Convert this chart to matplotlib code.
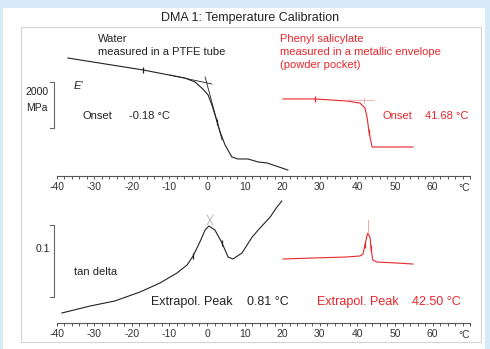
import matplotlib
matplotlib.use("Agg")
import matplotlib.pyplot as plt
from matplotlib.patches import Rectangle

plt.rcParams['font.family'] = ['Liberation Sans', 'DejaVu Sans']
plt.rcParams['axes.unicode_minus'] = False

# water in PTFE tube: storage modulus E' (MPa)
water_T = [-37.0, -17.0, -7.2, -5.9, -3.2, -1.1, 0.3, 1.3, 2.7, 3.5, 4.8, 6.6, 8.2, 10.9, 13.6, 16.0, 21.5]
water_E = [5130, 4610, 4300, 4260, 4090, 3780, 3520, 3090, 2350, 1910, 1350, 830, 740, 740, 610, 565, 260]
water_tan1_T = [-9.8, 1.3]
water_tan1_E = [4390, 4000]
water_tan2_T = [-0.5, 4.0]
water_tan2_E = [4305, 1565]

# phenyl salicylate in metallic envelope: E' (MPa)
phs_T = [20.2, 28.7, 37.2, 40.7, 42.0, 42.6, 43.1, 43.9, 44.7, 54.8]
phs_E = [3350, 3350, 3260, 3170, 2960, 2520, 1910, 1260, 1260, 1260]
phs_tan_T = [37.2, 44.5]
phs_tan_E = [3300, 3275]
phs_cross_T = [41.7, 41.7]
phs_cross_E = [3405, 3160]

# tan delta
water_td_T = [-38.6, -31.1, -24.5, -17.8, -12.5, -8.0, -5.3, -3.7, -1.9, -0.5, 0.5, 2.1, 4.0,
              5.6, 6.9, 9.3, 12.0, 14.1, 16.8, 18.6, 19.9]
water_td = [0.0139, 0.0236, 0.0306, 0.0431, 0.0556, 0.0694, 0.0806, 0.0931, 0.1125, 0.1292, 0.1347,
            0.1292, 0.1111, 0.0917, 0.0889, 0.0972, 0.1194, 0.1319, 0.1472, 0.1611, 0.1694]
water_x1_T, water_x1_v = [0.0, 1.6], [0.150, 0.136]
water_x2_T, water_x2_v = [0.0, 1.6], [0.136, 0.150]

phs_td_T = [20.2, 28.2, 37.2, 40.7, 41.5, 42.0, 42.6, 42.8, 43.4, 43.6, 44.1, 45.2, 50.5, 54.8]
phs_td = [0.0889, 0.0903, 0.0917, 0.0931, 0.0958, 0.1083, 0.1222, 0.1250, 0.1181, 0.1042, 0.0875,
          0.0847, 0.0833, 0.0819]
phs_pk_T = [42.7, 42.7]
phs_pk_v = [0.1250, 0.1430]

major = list(range(-40, 61, 10))
minor = list(range(-40, 71, 2))

BLACK = '#222222'
RED = '#e8262b'
LRED = '#f5a5a5'

fig = plt.figure(figsize=(4.9, 3.49), dpi=100)
fig.patch.set_facecolor('#d6eaf8')
fig.add_artist(Rectangle((3 / 490, 0), 482 / 490, 341 / 349, transform=fig.transFigure,
                         facecolor='white', edgecolor='none', zorder=-2))
fig.add_artist(Rectangle((21 / 490, 7 / 349), 460 / 490, 315 / 349, transform=fig.transFigure,
                         facecolor='none', edgecolor='#d4d4d4', lw=0.8, zorder=-1))
fig.text(250 / 490, 1 - 18 / 349, 'DMA 1: Temperature Calibration', ha='center', va='center',
         fontsize=9, color='#222222')

ax1 = fig.add_axes([49.1 / 490, 173 / 349, 428.6 / 490, 146 / 349])
ax2 = fig.add_axes([49.1 / 490, 26 / 349, 428.6 / 490, 128 / 349])


def style(ax):
    ax.set_xlim(-42, 72)
    ax.set_facecolor('none')
    for s in ('left', 'right', 'top'):
        ax.spines[s].set_visible(False)
    ax.spines['bottom'].set_bounds(-40, 70)
    ax.spines['bottom'].set_color('#555555')
    ax.spines['bottom'].set_linewidth(0.8)
    ax.set_yticks([])
    ax.set_xticks(major)
    ax.set_xticks(minor, minor=True)
    ax.tick_params(axis='x', which='both', direction='out', length=2.5, width=0.7,
                   color='#555555', labelsize=7.5, labelcolor='#333333', pad=2)
    ax.annotate('°C', xy=(68.4, 0), xycoords=ax.get_xaxis_transform(), xytext=(0, -8.6),
                textcoords='offset points', ha='center', va='center', fontsize=7.5, color='#333333')


style(ax1)
style(ax2)
ax1.set_ylim(0, 6348)
ax2.set_ylim(0, 0.1778)

# top panel: E'
ax1.plot(water_T, water_E, color=BLACK, lw=0.8)
ax1.plot(water_tan1_T, water_tan1_E, color=BLACK, lw=0.6)
ax1.plot(water_tan2_T, water_tan2_E, color=BLACK, lw=0.6)
ax1.plot([water_T[1], water_T[8]], [water_E[1], water_E[8]], ls='none', marker='|', ms=4,
         mew=0.9, color=BLACK)
ax1.plot(phs_T, phs_E, color=RED, lw=0.8)
ax1.plot(phs_tan_T, phs_tan_E, color=LRED, lw=0.6)
ax1.plot(phs_cross_T, phs_cross_E, color=LRED, lw=0.6)
ax1.plot([phs_T[1], phs_T[6]], [phs_E[1], phs_E[6]], ls='none', marker='|', ms=4, mew=0.9,
         color=RED)

# scale bar 2000 MPa
ax1.plot([-41.7, -40.7, -40.7, -41.7], [4087, 4087, 2087, 2087], color='#666666', lw=0.8,
         clip_on=False)
ax1.text(-48.2, 3652, '2000', ha='left', va='center', fontsize=7.5, color='#222222')
ax1.text(-48.2, 2957, 'MPa', ha='left', va='center', fontsize=7.5, color='#222222')

ax1.text(-29.0, 5957, 'Water', ha='left', va='center', fontsize=8, color='#222222')
ax1.text(-29.0, 5391, 'measured in a PTFE tube', ha='left', va='center', fontsize=8, color='#222222')
ax1.text(-35.4, 3913, "E'", ha='left', va='center', fontsize=8, style='italic', color='#222222')
ax1.text(-33.2, 2609, 'Onset', ha='left', va='center', fontsize=8, color='#222222')
ax1.text(-20.7, 2609, '-0.18 °C', ha='left', va='center', fontsize=8, color='#222222')

ax1.text(19.4, 5957, 'Phenyl salicylate', ha='left', va='center', fontsize=8, color=RED)
ax1.text(19.4, 5391, 'measured in a metallic envelope', ha='left', va='center', fontsize=8, color=RED)
ax1.text(19.4, 4826, '(powder pocket)', ha='left', va='center', fontsize=8, color=RED)
ax1.text(46.8, 2609, 'Onset', ha='left', va='center', fontsize=8, color=RED)
ax1.text(58.0, 2609, '41.68 °C', ha='left', va='center', fontsize=8, color=RED)

# bottom panel: tan delta
ax2.plot(water_td_T, water_td, color=BLACK, lw=0.8)
ax2.plot(water_x1_T, water_x1_v, color='#bbbbbb', lw=0.7)
ax2.plot(water_x2_T, water_x2_v, color='#bbbbbb', lw=0.7)
ax2.plot([water_td_T[7], water_td_T[12]], [water_td[7], water_td[12]], ls='none', marker='|',
         ms=4, mew=0.9, color=BLACK)
ax2.plot(phs_td_T, phs_td, color=RED, lw=0.8)
ax2.plot(phs_pk_T, phs_pk_v, color=LRED, lw=0.7)
ax2.plot([phs_td_T[5], phs_td_T[9]], [phs_td[5], phs_td[9]], ls='none', marker='|', ms=4,
         mew=0.9, color=RED)

# scale bar 0.1
ax2.plot([-41.7, -40.7, -40.7, -41.7], [0.1361, 0.1361, 0.0361, 0.0361], color='#666666', lw=0.8,
         clip_on=False)
ax2.text(-45.7, 0.1028, '0.1', ha='left', va='center', fontsize=7.5, color='#222222')
ax2.text(-35.4, 0.0708, 'tan delta', ha='left', va='center', fontsize=8, color='#222222')

ax2.text(-14.9, 0.0292, 'Extrapol. Peak', ha='left', va='center', fontsize=9, color='#222222')
ax2.text(10.6, 0.0292, '0.81 °C', ha='left', va='center', fontsize=9, color='#222222')
ax2.text(29.2, 0.0292, 'Extrapol. Peak', ha='left', va='center', fontsize=9, color=RED)
ax2.text(54.5, 0.0292, '42.50 °C', ha='left', va='center', fontsize=9, color=RED)

fig.savefig('out.png', dpi=100, facecolor=fig.get_facecolor())
